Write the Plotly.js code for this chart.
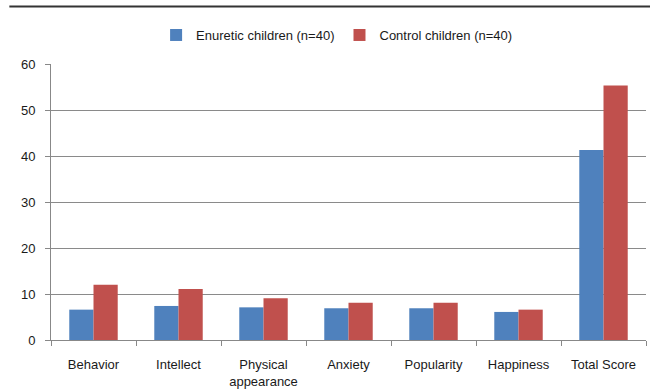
<!DOCTYPE html>
<html>
<head>
<meta charset="utf-8">
<script src="https://cdn.plot.ly/plotly-3.0.1.min.js"></script>
<style>
  html, body { margin: 0; padding: 0; background: #fff; }
  #chart { width: 650px; height: 390px; }
</style>
</head>
<body>
<div id="chart"></div>
<script>
// Self-concept subscale scores
const categories = ["Behavior", "Intellect", "Physical<br>appearance", "Anxiety", "Popularity", "Happiness", "Total Score"];
const enureticScores = [6.6, 7.4, 7.1, 6.9, 6.9, 6.1, 41.3];
const controlScores = [12.0, 11.1, 9.1, 8.1, 8.1, 6.6, 55.3];
const seriesNames = ["Enuretic children (n=40)", "Control children (n=40)"];
const yTicks = [0, 10, 20, 30, 40, 50, 60];

const textFont = { family: "Liberation Sans, Arial, sans-serif", size: 13, color: "#1a1a1a" };

const traces = [
  { type: "bar", name: seriesNames[0], x: categories, y: enureticScores,
    marker: { color: "#4F81BD" } },
  { type: "bar", name: seriesNames[1], x: categories, y: controlScores,
    marker: { color: "#C0504D" } }
];

const layout = {
  width: 650, height: 390,
  margin: { l: 51, r: 4, t: 64, b: 50 },
  paper_bgcolor: "#fff", plot_bgcolor: "#fff",
  barmode: "group", bargap: 0.43, bargroupgap: 0,
  showlegend: true,
  legend: {
    orientation: "h", x: 0.48, xanchor: "center", y: 1.105, yanchor: "middle",
    font: textFont, itemwidth: 30, traceorder: "normal"
  },
  xaxis: {
    type: "category", tickfont: textFont,
    showline: true, linecolor: "#888", linewidth: 1,
    ticks: "outside", tickson: "boundaries", ticklen: 5, tickcolor: "#888",
    showgrid: false, ticklabelstandoff: 12, fixedrange: true
  },
  yaxis: {
    range: [0, 60], tickvals: yTicks, ticktext: yTicks.map(String), tickfont: textFont,
    showline: true, linecolor: "#888", linewidth: 1,
    ticks: "outside", ticklen: 5, tickcolor: "#888",
    showgrid: true, gridcolor: "#8a8a8a", gridwidth: 1,
    zeroline: false, ticklabelstandoff: 7, fixedrange: true
  },
  shapes: [
    { type: "line", xref: "paper", yref: "paper",
      x0: -0.07, x1: 1.01, y0: 1.208, y1: 1.208,
      line: { color: "#333", width: 2 } }
  ]
};

Plotly.newPlot("chart", traces, layout, { displayModeBar: false, staticPlot: true });
</script>
</body>
</html>
